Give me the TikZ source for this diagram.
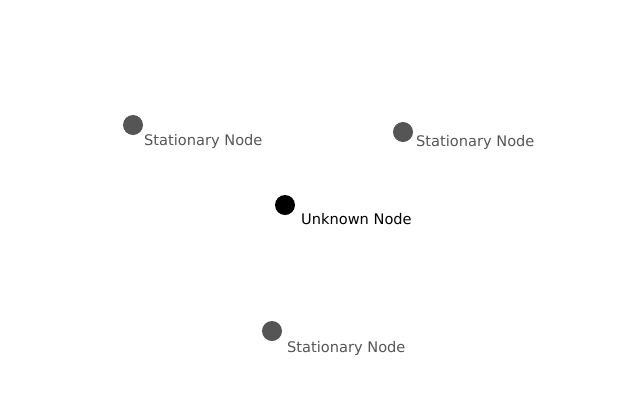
\documentclass[tikz,border=0pt]{standalone}
\usepackage{fontspec}
\setmainfont{DejaVu Sans}
\definecolor{statgray}{HTML}{555555}
\begin{document}
\begin{tikzpicture}[x=1pt,y=-1pt,
  stat/.style={circle,fill=statgray,minimum size=20pt,inner sep=0pt},
  unk/.style={circle,fill=black,minimum size=20pt,inner sep=0pt},
  lbl/.style={anchor=base west,inner sep=0pt,font=\fontsize{14.6}{16}\selectfont}]
\useasboundingbox (0,0) rectangle (640,400);
\node[stat] (s1) at (133,125) {};
\node[lbl,text=statgray] (l1) at (144,145.3) {Stationary Node};
\node[stat] (s2) at (403,132) {};
\node[lbl,text=statgray] (l2) at (416,146.3) {Stationary Node};
\node[unk] (u) at (285,205) {};
\node[lbl,text=black] (lu) at (301,224.3) {Unknown Node};
\node[stat] (s3) at (272,331) {};
\node[lbl,text=statgray] (l3) at (287,352.3) {Stationary Node};
\end{tikzpicture}
\end{document}
